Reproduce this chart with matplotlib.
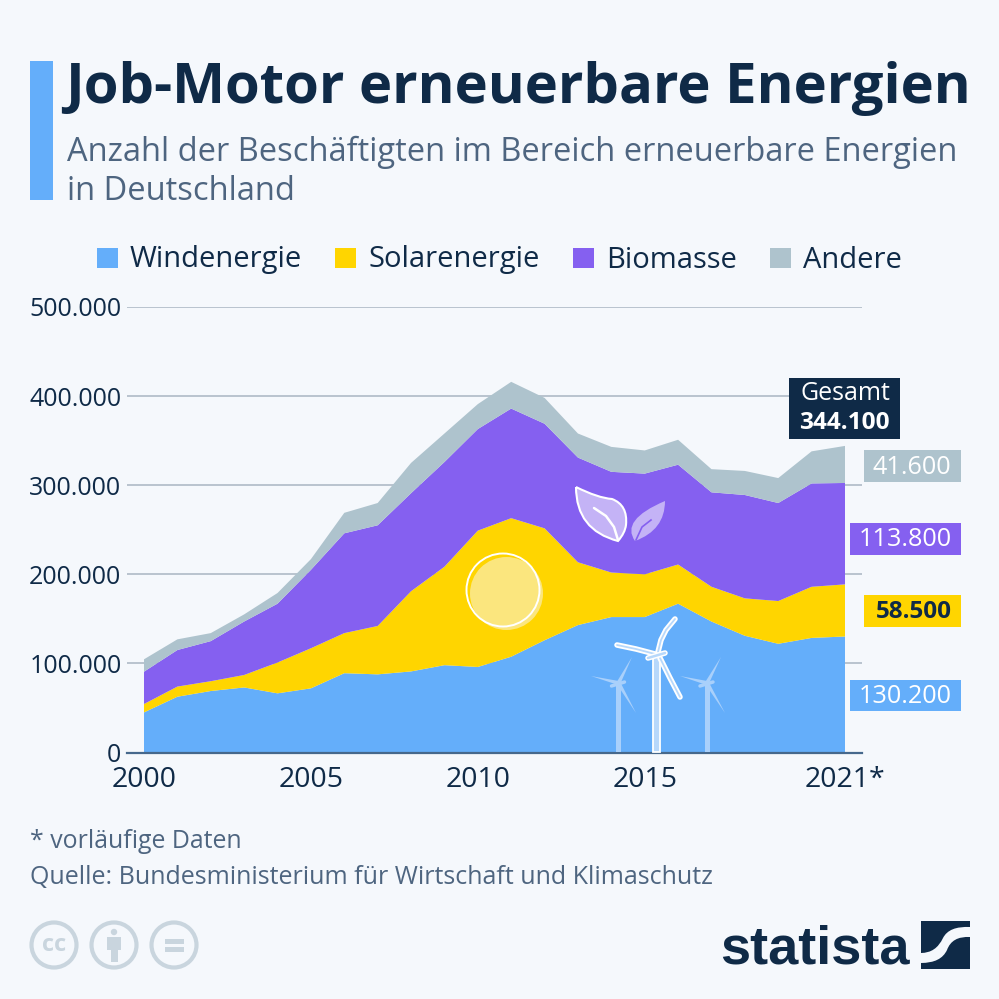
import matplotlib
matplotlib.use("Agg")
import matplotlib.pyplot as plt
import matplotlib.patches as mpatches
from matplotlib.path import Path

# Values
years = list(range(2000, 2022))
wind = [45000, 62600, 69000, 73000, 66400, 72000, 89000, 87700, 91000, 98000, 96000,
        107500, 126000, 143000, 152000, 152000, 167000, 147000, 131000, 122000, 128600, 130200]
solar = [9400, 11400, 11000, 14000, 34600, 45000, 45000, 54300, 90000, 110500, 153000,
         155500, 125600, 70500, 50000, 48000, 44000, 39000, 42000, 48000, 57400, 58500]
biomass = [36300, 41000, 45000, 60000, 66000, 88000, 112000, 113000, 110000, 117500, 114000,
           123000, 117400, 117500, 113000, 113000, 112000, 106000, 116000, 110000, 116000, 113800]
other = [13900, 12000, 9000, 8000, 12000, 12000, 23000, 25000, 34000, 32000, 28000,
         30000, 29000, 27000, 28000, 26000, 28000, 26000, 27000, 28000, 36000, 41600]
names = ["Windenergie", "Solarenergie", "Biomasse", "Andere"]
colors = ["#64aefa", "#ffd500", "#8560f0", "#aec3cd"]
end_labels = ["130.200", "58.500", "113.800", "41.600"]
y_ticks = [0, 100000, 200000, 300000, 400000, 500000]
y_labels = ["0", "100.000", "200.000", "300.000", "400.000", "500.000"]
x_ticks = [2000, 2005, 2010, 2015, 2021]
x_labels = ["2000", "2005", "2010", "2015", "2021*"]

BG = "#f5f8fc"
DARK = "#0f2a47"
MUTED = "#4e6580"
ICON = "#c9d5de"

plt.rcParams["font.family"] = ["Open Sans", "DejaVu Sans"]

fig = plt.figure(figsize=(9.99, 9.99), dpi=100, facecolor=BG)

# ---- Chart area ----
px_left, px_right, px_top, px_bottom = 127, 862, 307, 752.5
ax = fig.add_axes([px_left / 999, 1 - px_bottom / 999,
                   (px_right - px_left) / 999, (px_bottom - px_top) / 999])
ax.set_facecolor("none")
ax.stackplot(years, wind, solar, biomass, other, colors=colors, linewidth=0, zorder=2)
ax.set_xlim(2000 - 17 / 33.38, 2021 + 17 / 33.38)
ax.set_ylim(0, 500000)
ax.set_yticks(y_ticks)
ax.set_yticklabels(y_labels, fontsize=18, color=DARK)
ax.set_xticks(x_ticks)
ax.set_xticklabels(x_labels, fontsize=20.5, color=DARK)
ax.grid(axis="y", color="#b4bfcb", linewidth=1.3, zorder=1)
ax.tick_params(axis="both", length=0)
ax.tick_params(axis="y", pad=4)
ax.tick_params(axis="x", pad=9.5)
for s in ["top", "left", "right"]:
    ax.spines[s].set_visible(False)
ax.spines["bottom"].set_color("#46688c")
ax.spines["bottom"].set_linewidth(1.6)
ax.spines["bottom"].set_zorder(5)

# ---- Overlay in pixel coordinates ----
ov = fig.add_axes([0, 0, 1, 1], zorder=10)
ov.set_xlim(0, 999)
ov.set_ylim(999, 0)
ov.axis("off")

# Header
ov.add_patch(mpatches.Rectangle((30, 61), 23, 139, color="#64aefa", lw=0))
ov.text(65, 88, "Job-Motor erneuerbare Energien", fontsize=40.5, fontweight="bold",
        color=DARK, va="center", ha="left")
ov.text(67, 152, "Anzahl der Beschäftigten im Bereich erneuerbare Energien", fontsize=23.5,
        color=MUTED, va="center", ha="left")
ov.text(67, 191, "in Deutschland", fontsize=23.5, color=MUTED, va="center", ha="left")

# Legend
for x0, name, c in zip([97, 335, 573, 770], names, colors):
    ov.add_patch(mpatches.Rectangle((x0, 248), 21, 20, color=c, lw=0))
    ov.text(x0 + 33, 260, name, fontsize=21, color=DARK, va="center", ha="left")

# Value boxes on the right
boxes = [(850, 680, 111, 31, "white"), (864, 595, 97, 32, DARK),
         (850, 523, 111, 32, "white"), (864, 450, 97, 32, "white")]
for (x0, y0, w, h, tc), c, lab in zip(boxes, colors, end_labels):
    ov.add_patch(mpatches.Rectangle((x0, y0), w, h, color=c, lw=0))
    bold = tc == DARK
    ov.text(x0 + w - 9.5, y0 + h / 2 + 1, lab, fontsize=17.5 if bold else 18.2, color=tc, va="center",
            ha="right", fontweight="bold" if bold else "normal")
ov.add_patch(mpatches.Rectangle((789, 378), 111, 61, color=DARK, lw=0))
ov.text(890, 394, "Gesamt", fontsize=18, color="white", va="center", ha="right")
ov.text(890, 423, "344.100", fontsize=17.6, color="white", va="center", ha="right", fontweight="bold")

# Sun
ov.add_patch(mpatches.Circle((506.5, 593.5), 36.5, color="#fbe67e", lw=0))
ov.add_patch(mpatches.Circle((503, 590), 36.5, fill=False, ec="white", lw=1.4))

# Leaves
C3 = Path.CURVE3
left_leaf = Path([(576, 487), (598, 498), (612, 499), (628, 505), (626, 525), (625, 533), (618, 541),
                  (576, 530), (576, 487)],
                 [Path.MOVETO, C3, C3, C3, C3, C3, C3, C3, C3])
ov.add_patch(mpatches.PathPatch(left_leaf, fc="#c4b3f6", ec="white", lw=1.5))
ov.plot([594, 606, 614, 618], [508, 516, 527, 540], color="white", lw=1.8, solid_capstyle="round")
right_leaf = Path([(665, 501), (665, 530), (635, 541), (620, 520), (665, 501)],
                  [Path.MOVETO, C3, C3, C3, C3])
ov.add_patch(mpatches.PathPatch(right_leaf, fc="#c4b3f6", ec="none"))
ov.plot([636, 642, 651], [540, 527, 520], color="#8560f0", lw=1.2)


# Wind turbines
def small_turbine(hx, hy, tips):
    ov.add_patch(mpatches.Rectangle((hx - 2.5, hy), 5, 752 - hy, fc="#a9d0fb", lw=0))
    ov.plot([hx - 7, hx + 6], [hy + 3, hy - 1], color="#a9d0fb", lw=2.5, solid_capstyle="round")
    for tx, ty in tips:
        dx, dy = tx - hx, ty - hy
        n = (dx * dx + dy * dy) ** 0.5
        nx, ny = -dy / n * 2, dx / n * 2
        ov.add_patch(mpatches.Polygon([(hx + nx, hy + ny), (hx - nx, hy - ny), (tx, ty)],
                                      fc="#a9d0fb", lw=0))


small_turbine(618.5, 683, [(632, 657), (591, 676), (636, 713)])
small_turbine(707, 683, [(721, 657), (680, 676), (725, 713)])

ov.add_patch(mpatches.Rectangle((652.5, 655), 7, 97, fc="#b7d8fb", ec="white", lw=1.3))
main_blades = [([658, 661, 666, 675], [652, 640, 630, 619]),
               ([655, 636, 617], [654, 649, 645]),
               ([660, 670, 680], [658, 678, 697])]
for bx, by in main_blades:
    ov.plot(bx, by, color="white", lw=4, solid_capstyle="round", solid_joinstyle="round")
    ov.plot(bx, by, color="#b7d8fb", lw=1.3, solid_capstyle="round", solid_joinstyle="round")
ov.plot([648, 665], [658, 653], color="white", lw=4, solid_capstyle="round")
ov.plot([648, 665], [658, 653], color="#b7d8fb", lw=1.8, solid_capstyle="round")

# Footer
ov.text(30, 842, "* vorläufige Daten", fontsize=17.9, color=MUTED, va="center", ha="left")
ov.text(30, 878, "Quelle: Bundesministerium für Wirtschaft und Klimaschutz", fontsize=18,
        color=MUTED, va="center", ha="left")

# Licence icons
for cx in [54, 114, 174]:
    ov.add_patch(mpatches.Ellipse((cx, 945), 45, 45, fill=False, ec=ICON, lw=3))
ov.text(54, 945, "cc", fontsize=17, fontweight="bold", color=ICON, ha="center", va="center")
ov.add_patch(mpatches.Circle((114, 932), 3.2, color=ICON, lw=0))
ov.add_patch(mpatches.Rectangle((107, 937), 14, 13, color=ICON, lw=0))
ov.add_patch(mpatches.Rectangle((110.5, 950), 7, 12, color=ICON, lw=0))
ov.add_patch(mpatches.Rectangle((165, 939), 19, 4.5, color=ICON, lw=0))
ov.add_patch(mpatches.Rectangle((165, 947), 19, 5, color=ICON, lw=0))

# Statista logo
ov.text(720, 949, "statista", fontsize=39, fontweight="bold", color=DARK, ha="left", va="center",
        family=["Liberation Sans", "DejaVu Sans"])
ov.add_patch(mpatches.Rectangle((921, 921), 49, 48, color=DARK, lw=0))
swoosh = Path([(970, 927), (949, 926), (943, 938), (936, 953), (921, 953),
               (921, 963), (941, 963), (947, 950), (952, 936), (970, 937), (970, 927)],
              [Path.MOVETO, C3, C3, C3, C3, Path.LINETO, C3, C3, C3, C3, Path.CLOSEPOLY])
ov.add_patch(mpatches.PathPatch(swoosh, fc=BG, ec="none"))

fig.savefig("out.png", dpi=100, facecolor=BG)
